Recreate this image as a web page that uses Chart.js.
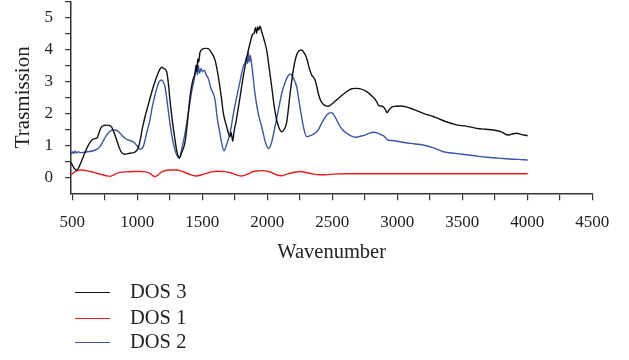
<!DOCTYPE html>
<html>
<head>
<meta charset="utf-8">
<script src="https://cdn.jsdelivr.net/npm/chart.js@4"></script>
<style>
  html, body { margin:0; padding:0; background:#fff; }
  #wrap { position:relative; width:629px; height:360px; }
  #c { position:absolute; left:0; top:0; }
  .leg { position:absolute; left:75px; font-family:"Liberation Serif", serif; font-size:20.5px; color:#231f20; }
  .leg .ln { position:absolute; left:0; width:35px; height:0; border-top:1.5px solid; }
  .leg .tx { position:absolute; left:55px; white-space:nowrap; line-height:22px; top:-12px; }
</style>
</head>
<body>
<div id="wrap">
<canvas id="c" width="629" height="360"></canvas>
<div class="leg" style="top:292px"><div class="ln" style="border-color:#111"></div><div class="tx">DOS 3</div></div>
<div class="leg" style="top:318px"><div class="ln" style="border-color:#e81e1e"></div><div class="tx">DOS 1</div></div>
<div class="leg" style="top:342px"><div class="ln" style="border-color:#3a55a8"></div><div class="tx">DOS 2</div></div>
</div>
<script>
const seriesNames = ["DOS 3", "DOS 1", "DOS 2"];
const xTickValues = [500,750,1000,1250,1500,1750,2000,2250,2500,2750,3000,3250,3500,3750,4000,4250,4500];
const yTickValues = [0,0.5,1,1.5,2,2.5,3,3.5,4,4.5,5,5.5];

const dos3 = [[490,0.47],[505,0.35],[534,0.22],[560,0.4],[600,0.8],[636,1.09],[665,1.2],[690,1.23],[710,1.45],[726,1.58],[745,1.62],[765,1.63],[785,1.62],[803,1.57],[825,1.35],[854,1.01],[875,0.8],[900,0.72],[940,0.75],[982,0.79],[1005,0.9],[1021,1.14],[1040,1.55],[1060,1.9],[1080,2.2],[1100,2.5],[1123,2.83],[1150,3.15],[1170,3.35],[1187,3.44],[1205,3.4],[1226,3.3],[1240,2.9],[1251,2.42],[1270,1.75],[1290,1.17],[1305,0.8],[1323,0.61],[1340,0.75],[1367,1.1],[1385,1.7],[1405,2.5],[1425,3.0],[1444,3.25],[1452,3.5],[1458,3.3],[1465,3.7],[1472,3.6],[1482,3.9],[1500,4.0],[1521,4.03],[1546,4.02],[1570,3.9],[1598,3.66],[1623,3.15],[1649,2.42],[1662,2.0],[1688,1.58],[1713,1.27],[1722,1.4],[1734,1.13],[1745,1.45],[1760,1.75],[1790,2.5],[1815,3.15],[1840,3.7],[1867,4.19],[1885,4.45],[1900,4.52],[1910,4.68],[1918,4.5],[1926,4.7],[1935,4.6],[1944,4.72],[1957,4.55],[1975,4.3],[1995,3.98],[2015,3.4],[2034,2.83],[2052,2.25],[2072,1.79],[2090,1.55],[2111,1.42],[2130,1.5],[2149,1.72],[2175,2.6],[2200,3.35],[2220,3.75],[2238,3.93],[2264,3.98],[2285,3.88],[2303,3.72],[2320,3.45],[2341,3.2],[2356,3.12],[2367,3.04],[2380,2.85],[2392,2.625],[2410,2.4],[2431,2.28],[2450,2.23],[2469,2.22],[2500,2.3],[2534,2.42],[2570,2.55],[2611,2.68],[2645,2.76],[2675,2.78],[2710,2.77],[2765,2.68],[2810,2.52],[2842,2.36],[2855,2.25],[2867,2.23],[2885,2.22],[2900,2.17],[2910,2.1],[2923,2.02],[2935,2.1],[2957,2.19],[2990,2.22],[3021,2.23],[3070,2.2],[3123,2.125],[3200,2.0],[3277,1.9],[3360,1.76],[3457,1.64],[3530,1.6],[3611,1.53],[3680,1.5],[3738,1.48],[3800,1.42],[3854,1.32],[3880,1.35],[3918,1.375],[3950,1.34],[4003,1.3]];

const dos1 = [[490,0.07],[520,0.18],[559,0.23],[610,0.21],[660,0.16],[713,0.1],[760,0.05],[790,0.03],[815,0.07],[841,0.125],[880,0.16],[918,0.17],[970,0.18],[1021,0.18],[1060,0.17],[1097,0.125],[1120,0.05],[1136,0.02],[1155,0.06],[1174,0.125],[1200,0.19],[1226,0.22],[1265,0.23],[1303,0.23],[1335,0.2],[1367,0.15],[1410,0.08],[1456,0.04],[1495,0.08],[1533,0.125],[1570,0.17],[1610,0.19],[1660,0.18],[1713,0.15],[1760,0.08],[1803,0.04],[1850,0.1],[1892,0.18],[1930,0.2],[1969,0.21],[2000,0.19],[2033,0.15],[2070,0.08],[2110,0.05],[2150,0.1],[2200,0.15],[2251,0.18],[2300,0.15],[2354,0.1],[2405,0.08],[2450,0.08],[2508,0.1],[2600,0.11],[3000,0.11],[3500,0.11],[4003,0.11]];

const dos2 = [[490,0.73],[500,0.8],[510,0.74],[520,0.82],[530,0.76],[545,0.8],[560,0.77],[585,0.78],[620,0.8],[662,0.83],[690,0.88],[713,0.96],[740,1.15],[764,1.32],[790,1.44],[815,1.48],[835,1.47],[854,1.43],[880,1.32],[905,1.22],[935,1.16],[969,1.11],[995,1.0],[1021,0.875],[1036,0.9],[1046,0.96],[1070,1.35],[1097,1.79],[1115,2.2],[1136,2.57],[1155,2.85],[1169,2.99],[1187,3.04],[1200,2.98],[1213,2.83],[1230,2.35],[1251,1.69],[1270,1.2],[1290,0.85],[1305,0.68],[1323,0.59],[1340,0.85],[1367,1.375],[1392,2.0],[1418,2.68],[1435,3.0],[1448,3.3],[1456,3.45],[1462,3.2],[1470,3.5],[1478,3.25],[1490,3.4],[1500,3.3],[1515,3.35],[1530,3.2],[1546,3.09],[1565,2.8],[1598,2.42],[1615,1.85],[1636,1.37],[1650,1.05],[1667,0.83],[1685,1.0],[1713,1.37],[1740,2.0],[1765,2.52],[1790,3.0],[1815,3.46],[1830,3.6],[1840,3.75],[1848,3.55],[1855,3.9],[1862,3.6],[1870,3.8],[1879,3.56],[1905,2.62],[1930,2.0],[1957,1.58],[1985,1.1],[2008,0.9],[2030,1.05],[2059,1.58],[2085,2.1],[2111,2.62],[2140,3.0],[2162,3.18],[2180,3.23],[2200,3.1],[2226,2.83],[2245,2.35],[2264,1.89],[2285,1.45],[2303,1.27],[2330,1.3],[2367,1.375],[2395,1.5],[2418,1.69],[2457,1.95],[2495,2.02],[2520,1.9],[2546,1.69],[2575,1.5],[2611,1.375],[2640,1.3],[2675,1.25],[2710,1.28],[2752,1.32],[2790,1.39],[2821,1.41],[2850,1.38],[2880,1.32],[2900,1.28],[2923,1.17],[2960,1.15],[3021,1.11],[3100,1.06],[3200,1.01],[3280,0.92],[3354,0.8],[3420,0.76],[3482,0.73],[3580,0.68],[3688,0.625],[3780,0.6],[3854,0.57],[3930,0.56],[4003,0.54]];

const colors = ["#111111", "#e81e1e", "#3a55a8"];
const toPts = arr => arr.map(p => ({x:p[0], y:p[1]}));
const fontFam = '"Liberation Serif", serif';
const txtColor = '#231f20';
const zeroPad = s => { s.paddingTop = 0; s.paddingBottom = 0; s.paddingLeft = 0; s.paddingRight = 0; };

new Chart(document.getElementById('c'), {
  type: 'line',
  data: {
    datasets: [dos3, dos1, dos2].map((d, i) => ({
      label: seriesNames[i],
      data: toPts(d),
      borderColor: colors[i],
      borderWidth: 1.4,
      pointRadius: 0,
      cubicInterpolationMode: 'monotone',
      fill: false
    }))
  },
  options: {
    responsive: false,
    animation: false,
    devicePixelRatio: 1,
    layout: { padding: { left: 0, top: 1.3, right: 36.7, bottom: 94.7 } },
    plugins: { legend: { display: false }, tooltip: { enabled: false } },
    scales: {
      x: {
        type: 'linear', min: 490, max: 4500,
        afterBuildTicks: s => { s.ticks = xTickValues.map(v => ({value: v})); },
        afterFit: s => { s.height = 72; zeroPad(s); },
        ticks: { callback: v => (v % 500 === 0 ? String(v) : ''), font: {family: fontFam, size: 17}, color: txtColor, padding: 12, maxRotation: 0, autoSkip: false },
        grid: { drawOnChartArea: false, drawTicks: true, tickLength: 7, color: '#333', lineWidth: 1.2 },
        border: { color: '#333', width: 1.5 },
        title: { display: true, text: 'Wavenumber', font: {family: fontFam, size: 20.5}, color: txtColor, padding: {top: 6, bottom: 0} }
      },
      y: {
        type: 'linear', min: -0.5, max: 5.5,
        afterBuildTicks: s => { s.ticks = yTickValues.map(v => ({value: v})); },
        afterFit: s => { s.width = 71; zeroPad(s); },
        ticks: { callback: v => (Number.isInteger(v) && v <= 5 ? String(v) : ''), font: {family: fontFam, size: 17}, color: txtColor, padding: 12, autoSkip: false },
        grid: { drawOnChartArea: false, drawTicks: true, tickLength: 6, color: '#333', lineWidth: 1.2 },
        border: { color: '#333', width: 1.5 },
        title: { display: true, text: 'Trasmission', font: {family: fontFam, size: 21}, color: txtColor, padding: {top: 11, bottom: 0} }
      }
    }
  }
});
</script>
</body>
</html>
